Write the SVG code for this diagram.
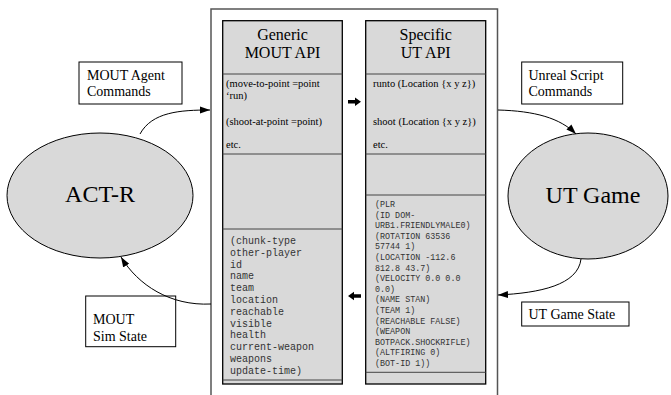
<svg xmlns="http://www.w3.org/2000/svg" width="671" height="395" viewBox="0 0 671 395">
<style>
.lbl{font-family:'Liberation Serif','Times New Roman','DejaVu Serif',serif;font-size:14px;fill:#000}
.big{font-family:'Liberation Serif','Times New Roman','DejaVu Serif',serif;font-size:24px;fill:#000;text-anchor:middle}
.hdr{font-family:'Liberation Serif','Times New Roman','DejaVu Serif',serif;font-size:16px;fill:#000;text-anchor:middle}
.cmd{font-family:'Liberation Serif','Times New Roman','DejaVu Serif',serif;font-size:10.5px;fill:#000}
.mono{font-family:'Liberation Mono','Courier New','DejaVu Sans Mono',monospace;font-size:10px;fill:#333}
.mono2{font-family:'Liberation Mono','Courier New','DejaVu Sans Mono',monospace;font-size:8.4px;fill:#333}
.box{fill:#fff;stroke:#000;stroke-width:1}
.col{fill:#d9d9d9;stroke:#000;stroke-width:1.3}
.div{stroke:#444;stroke-width:1;fill:none}
.ell{fill:#d9d9d9;stroke:#000;stroke-width:1}
.con{fill:none;stroke:#000;stroke-width:1}
</style>
<defs>
<marker id="ah" markerUnits="userSpaceOnUse" markerWidth="10" markerHeight="8" refX="10" refY="4" orient="auto">
<path d="M0,0.5 L10,4 L0,7.5 z" fill="#000"/>
</marker>
</defs>
<rect width="671" height="395" fill="#fff"/>

<g id="container">
<path d="M211,400 L211,9 L497.5,9 L497.5,400" fill="none" stroke="#555" stroke-width="1.5"/>
</g>

<g id="generic-api">
<rect class="col" x="222.7" y="20.7" width="119.6" height="363.3"/>
<line class="div" x1="222.7" y1="74" x2="342.3" y2="74"/>
<line class="div" x1="222.7" y1="154" x2="342.3" y2="154"/>
<line class="div" x1="222.7" y1="229" x2="342.3" y2="229"/>
<line class="div" x1="222.7" y1="380" x2="342.3" y2="380"/>
<text class="hdr" x="282.5" y="39.5" font-family="Liberation Serif, serif">Generic</text>
<text class="hdr" x="282.5" y="58.3" font-family="Liberation Serif, serif">MOUT API</text>
<text class="cmd" x="226" y="87">(move-to-point =point</text>
<text class="cmd" x="226" y="99">‘run)</text>
<text class="cmd" x="226" y="125">(shoot-at-point =point)</text>
<text class="cmd" x="226" y="148">etc.</text>
<text class="mono" x="230" y="244">(chunk-type</text>
<text class="mono" x="230" y="255.8">other-player</text>
<text class="mono" x="230" y="267.6">id</text>
<text class="mono" x="230" y="279.4">name</text>
<text class="mono" x="230" y="291.2">team</text>
<text class="mono" x="230" y="303">location</text>
<text class="mono" x="230" y="314.8">reachable</text>
<text class="mono" x="230" y="326.6">visible</text>
<text class="mono" x="230" y="338.4">health</text>
<text class="mono" x="230" y="350.2">current-weapon</text>
<text class="mono" x="230" y="362">weapons</text>
<text class="mono" x="230" y="373.8">update-time)</text>
</g>

<g id="ut-api">
<rect class="col" x="365.7" y="20.7" width="120" height="363.3"/>
<line class="div" x1="365.7" y1="74" x2="485.7" y2="74"/>
<line class="div" x1="365.7" y1="154" x2="485.7" y2="154"/>
<line class="div" x1="365.7" y1="195" x2="485.7" y2="195"/>
<line class="div" x1="365.7" y1="372.3" x2="485.7" y2="372.3"/>
<text class="hdr" x="425.7" y="39.5">Specific</text>
<text class="hdr" x="425.7" y="58.3">UT API</text>
<text class="cmd" x="373" y="87">runto (Location {x y z})</text>
<text class="cmd" x="373" y="125">shoot (Location {x y z})</text>
<text class="cmd" x="373" y="148">etc.</text>
<text class="mono2" x="375" y="207">(PLR</text>
<text class="mono2" x="375" y="217.6">(ID DOM-</text>
<text class="mono2" x="375" y="228.2">URB1.FRIENDLYMALE0)</text>
<text class="mono2" x="375" y="238.8">(ROTATION 63536</text>
<text class="mono2" x="375" y="249.4">57744 1)</text>
<text class="mono2" x="375" y="260">(LOCATION -112.6</text>
<text class="mono2" x="375" y="270.6">812.8 43.7)</text>
<text class="mono2" x="375" y="281.2">(VELOCITY 0.0 0.0</text>
<text class="mono2" x="375" y="291.8">0.0)</text>
<text class="mono2" x="375" y="302.4">(NAME STAN)</text>
<text class="mono2" x="375" y="313">(TEAM 1)</text>
<text class="mono2" x="375" y="323.6">(REACHABLE FALSE)</text>
<text class="mono2" x="375" y="334.2">(WEAPON</text>
<text class="mono2" x="375" y="344.8">BOTPACK.SHOCKRIFLE)</text>
<text class="mono2" x="375" y="355.4">(ALTFIRING 0)</text>
<text class="mono2" x="375" y="366">(BOT-ID 1))</text>
</g>

<g id="act-r">
<ellipse class="ell" cx="100" cy="195.5" rx="93" ry="62.5"/>
<text class="big" x="100" y="202">ACT-R</text>
</g>

<g id="ut-game">
<ellipse class="ell" cx="588" cy="196" rx="80" ry="63"/>
<text class="big" x="593" y="203">UT Game</text>
</g>

<g id="label-mout-agent-commands">
<rect class="box" x="79" y="62" width="103" height="42"/>
<text class="lbl" x="87" y="80">MOUT Agent</text>
<text class="lbl" x="87" y="96">Commands</text>
</g>

<g id="label-unreal-script-commands">
<rect class="box" x="521.7" y="62" width="101" height="42"/>
<text class="lbl" x="528.5" y="80">Unreal Script</text>
<text class="lbl" x="528.5" y="96">Commands</text>
</g>

<g id="label-mout-sim-state">
<rect class="box" x="85.7" y="296" width="90" height="50.7"/>
<text class="lbl" x="93" y="324">MOUT</text>
<text class="lbl" x="93" y="341">Sim State</text>
</g>

<g id="label-ut-game-state">
<rect class="box" x="521.7" y="302" width="107.3" height="24"/>
<text class="lbl" x="528.5" y="318.5">UT Game State</text>
</g>

<g id="connectors">
<path class="con" d="M140,134 C152,112 180,110 210,110" marker-end="url(#ah)"/>
<path class="con" d="M211,304 C170,306 138,285 121,257" marker-end="url(#ah)"/>
<path class="con" d="M498,110 C535,111 560,118 576,134" marker-end="url(#ah)"/>
<path class="con" d="M581,259 C578,285 540,293 498,295" marker-end="url(#ah)"/>
<polygon points="348,100 355,100 355,97.5 361,101.7 355,105.9 355,103.4 348,103.4" fill="#000"/>
<polygon points="361,294.3 354,294.3 354,291.8 348,296 354,300.2 354,297.7 361,297.7" fill="#000"/>
</g>
</svg>
